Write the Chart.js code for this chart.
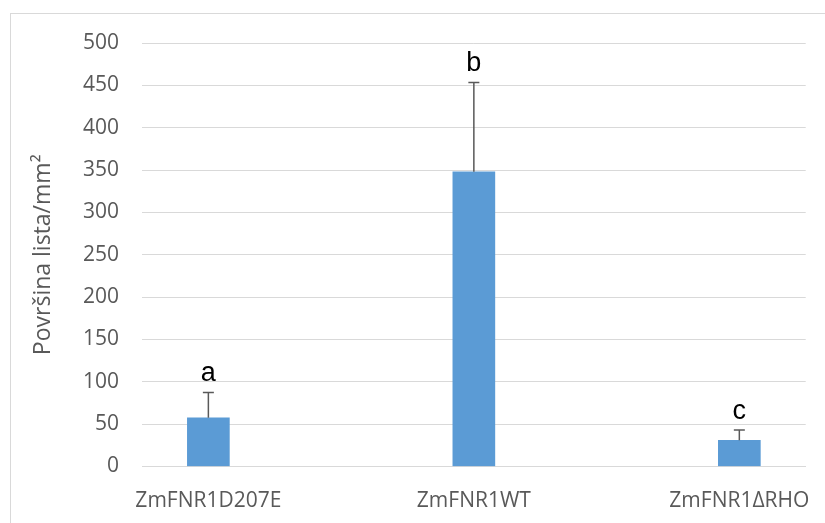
<!DOCTYPE html>
<html>
<head>
<meta charset="utf-8">
<script src="https://cdn.jsdelivr.net/npm/chart.js@4"></script>
<style>
  body { margin: 0; background: #fff; }
  canvas { display: block; }
</style>
</head>
<body>
<canvas id="myChart" width="825" height="523"></canvas>
<script>
// data
const categories = ['ZmFNR1D207E', 'ZmFNR1WT', 'ZmFNR1\u0394RHO'];
const means = [57.5, 348, 31];
const errors = [30, 105.5, 12];
const letters = ['a', 'b', 'c'];
const yMax = 500;
const yStep = 50;

const gray = '#595959';
const gridGray = '#d9d9d9';

// outer chart border (cut off at right and bottom like the original)
const frame = {
    id: 'frame',
    beforeDraw(chart) {
        const ctx = chart.ctx;
        ctx.save();
        ctx.fillStyle = '#fff';
        ctx.fillRect(0, 0, chart.width, chart.height);
        ctx.strokeStyle = gridGray;
        ctx.lineWidth = 1;
        ctx.strokeRect(10.5, 13.5, 900, 600);
        ctx.restore();
    }
};

// upper error bars + significance letters
const errorBars = {
    id: 'errorBars',
    afterDatasetsDraw(chart) {
        const ctx = chart.ctx;
        const x = chart.scales.x;
        const y = chart.scales.y;
        ctx.save();
        means.forEach((m, i) => {
            const px = x.getPixelForValue(i);
            const top = y.getPixelForValue(m + errors[i]);
            const base = y.getPixelForValue(m);
            ctx.strokeStyle = gray;
            ctx.lineWidth = 1.5;
            ctx.beginPath();
            ctx.moveTo(px, base);
            ctx.lineTo(px, top);
            ctx.moveTo(px - 5.5, top);
            ctx.lineTo(px + 5.5, top);
            ctx.stroke();

            ctx.fillStyle = '#000';
            ctx.font = '27px "Liberation Sans"';
            ctx.textAlign = 'center';
            ctx.textBaseline = 'alphabetic';
            ctx.fillText(letters[i], px, top - 11);
        });
        ctx.restore();
    }
};

const myChart = new Chart('myChart', {
    type: 'bar',
    data: {
        datasets: [{
            data: means.map((v, i) => ({x: i, y: v})),
            backgroundColor: '#5b9bd5',
            barThickness: 42
        }]
    },
    options: {
        responsive: false,
        animation: false,
        layout: { padding: { top: 43, right: 16.5, bottom: 0, left: 0 } },
        plugins: { legend: { display: false }, tooltip: { enabled: false } },
        scales: {
            x: {
                type: 'linear',
                offset: false,
                min: -0.25,
                max: 2.25,
                afterBuildTicks: scale => {
                    scale.ticks = categories.map((c, i) => ({value: i}));
                },
                afterFit: scale => { scale.height = 56.5; },
                grid: { display: false, offset: false },
                border: { color: gridGray, width: 1 },
                ticks: {
                    autoSkip: false,
                    maxRotation: 0,
                    padding: 14,
                    color: gray,
                    font: { family: 'Open Sans', size: 21 },
                    callback: v => categories[v]
                }
            },
            y: {
                min: 0,
                max: yMax,
                afterFit: scale => { scale.width = 142; },
                grid: { color: gridGray, lineWidth: 1, drawTicks: false },
                border: { display: false },
                ticks: {
                    stepSize: yStep,
                    padding: 23,
                    color: gray,
                    font: { family: 'Open Sans', size: 21 }
                },
                title: {
                    display: true,
                    text: 'Površina lista/mm²',
                    color: gray,
                    font: { family: 'Open Sans', size: 23 },
                    padding: { top: 30, bottom: 0 }
                }
            }
        }
    },
    plugins: [frame, errorBars]
});
</script>
</body>
</html>
